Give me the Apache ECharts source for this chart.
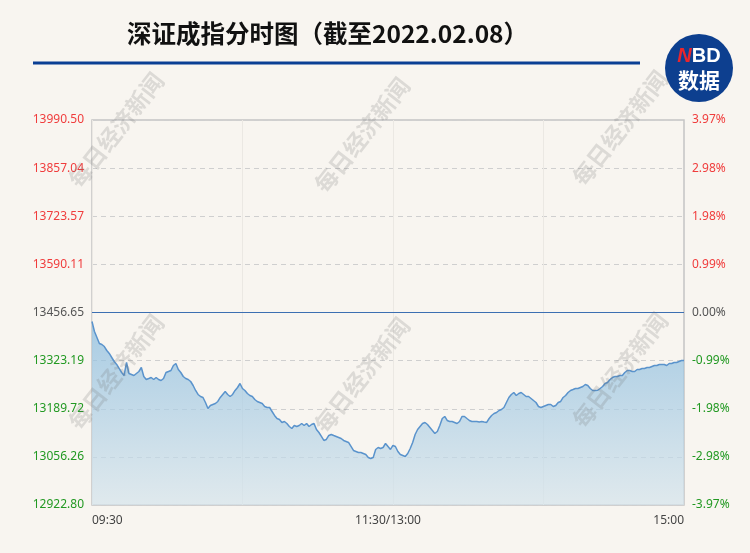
<!DOCTYPE html>
<html><head><meta charset="utf-8">
<script src="https://cdn.jsdelivr.net/npm/echarts@6/dist/echarts.min.js"></script>
<style>html,body{margin:0;padding:0;background:#f8f5f0}#c{width:750px;height:553px}</style>
</head><body><div id="c"></div>
<script>
const titleText = '深证成指分时图（截至2022.02.08）';
const prevClose = 13456.65;
const yMin = 12922.80, yMax = 13990.50;
const priceTicks = [12922.80, 13056.26, 13189.72, 13323.19, 13456.65, 13590.11, 13723.57, 13857.04, 13990.50];
const priceTickLabels = ['12922.80', '13056.26', '13189.72', '13323.19', '13456.65', '13590.11', '13723.57', '13857.04', '13990.50'];
const pctTickLabels = ['-3.97%', '-2.98%', '-1.98%', '-0.99%', '0.00%', '0.99%', '1.98%', '2.98%', '3.97%'];
const xLabelIndex = [0, 120, 240];
const xLabels = ['09:30', '11:30/13:00', '15:00'];

// 09:30 - 11:30 (121 minutes)
const morningPrices = [
13431.7,13404.0,13387.3,13370.7,13367.9,13362.3,13351.3,13343.0,13331.9,13320.8,
13312.5,13301.4,13290.3,13281.9,13318.0,13287.5,13284.7,13281.9,13287.5,13293.0,
13304.1,13279.2,13270.9,13273.6,13276.4,13270.9,13276.4,13270.9,13268.1,13273.6,
13290.3,13293.0,13295.8,13309.7,13315.2,13298.6,13290.3,13279.2,13273.6,13270.9,
13265.3,13254.2,13240.4,13229.3,13223.7,13221.0,13207.1,13190.5,13198.8,13201.6,
13204.3,13209.9,13221.0,13229.3,13237.6,13229.3,13223.7,13229.3,13240.4,13248.7,
13259.8,13245.9,13240.4,13232.0,13226.5,13223.7,13215.4,13209.9,13207.1,13204.3,
13196.0,13193.2,13193.2,13182.1,13171.1,13162.7,13160.0,13151.7,13154.4,13148.9,
13140.6,13135.0,13143.3,13140.6,13143.3,13148.9,13143.3,13148.9,13140.6,13146.1,
13148.9,13132.2,13123.9,13112.9,13101.8,13104.5,13115.6,13118.4,13115.6,13112.9,
13110.1,13107.3,13101.8,13099.0,13096.2,13085.1,13074.0,13071.2,13068.4,13068.4,
13065.7,13062.9,13054.6,13051.8,13054.6,13076.8,13082.3,13079.5,13082.3,13093.4,
13085.1];
// 13:01 - 15:00 (120 minutes)
const afternoonPrices = [
13076.8,13087.9,13085.1,13071.2,13062.9,13060.1,13057.3,13065.7,13079.5,13096.2,
13118.4,13132.2,13140.6,13148.9,13151.7,13146.1,13137.8,13129.5,13121.2,13126.7,
13143.3,13162.7,13168.3,13157.2,13154.4,13154.4,13151.7,13148.9,13154.4,13168.3,
13168.3,13162.7,13157.2,13154.4,13154.4,13154.4,13153.0,13154.4,13153.0,13151.7,
13162.7,13171.1,13176.6,13179.4,13184.9,13187.7,13193.2,13207.1,13221.0,13229.3,
13234.8,13226.5,13232.0,13234.8,13229.3,13223.7,13223.7,13218.2,13212.6,13207.1,
13196.0,13193.2,13196.0,13198.8,13201.6,13201.6,13196.0,13198.8,13207.1,13209.9,
13221.0,13226.5,13234.8,13240.4,13243.1,13245.9,13245.9,13248.7,13251.5,13257.0,
13254.2,13245.9,13240.4,13240.4,13241.0,13245.9,13251.5,13259.8,13262.5,13270.9,
13276.4,13279.2,13279.2,13281.9,13281.9,13290.3,13295.8,13295.8,13293.0,13293.0,
13298.6,13298.6,13301.4,13301.4,13304.1,13304.1,13306.9,13309.7,13309.7,13312.5,
13312.5,13312.5,13309.7,13315.2,13315.2,13318.0,13318.0,13320.8,13323.5,13323.5];

function pad(n){return (n<10?'0':'')+n;}
const times = [];
for (let m = 9*60+30; m <= 11*60+30; m++) times.push(pad(Math.floor(m/60))+':'+pad(m%60));
for (let m = 13*60+1; m <= 15*60; m++) times.push(pad(Math.floor(m/60))+':'+pad(m%60));
const prices = morningPrices.concat(afternoonPrices);

function tickIdx(v){ for (let i=0;i<priceTicks.length;i++) if (Math.abs(priceTicks[i]-v)<0.5) return i; return -1; }
function tickColor(v){ return v > prevClose+0.5 ? '#f03c3c' : (v < prevClose-0.5 ? '#229922' : '#555555'); }

const chart = echarts.init(document.getElementById('c'), null, {renderer:'canvas'});

const watermarks = [];
[[116,130],[362,135],[620,128],[116,372],[362,375],[620,370]].forEach(p=>{
  watermarks.push({type:'text', x:p[0], y:p[1], rotation: 52*Math.PI/180, z:50, silent:true,
    style:{text:'每日经济新闻', fill:'rgba(110,110,110,0.2)', font:'bold 23px "Noto Sans CJK SC"', align:'center', verticalAlign:'middle'}});
});

chart.setOption({
  backgroundColor:'#f8f5f0',
  animation:false,
  textStyle:{fontFamily:'"Noto Sans", "Noto Sans CJK SC", sans-serif'},
  grid:{left:92, right:66, top:120, bottom:48, show:true, borderColor:'#c4c4c4', borderWidth:1.5, backgroundColor:'transparent'},
  graphic: [
    {type:'text', left:127, top:21, z:10, style:{text:titleText, fill:'#111', font:'bold 24.5px "Noto Sans CJK SC"'}},
    {type:'rect', shape:{x:33, y:61.5, width:607, height:3}, style:{fill:'#0a3f94'}, z:10},
    {type:'circle', shape:{cx:699, cy:68, r:34}, style:{fill:'#0d3f8f'}, z:10},
    {type:'text', x:699, y:56, z:11, style:{text:'{n|N}{w|BD}', align:'center', verticalAlign:'middle',
       rich:{n:{fill:'#e8262d', font:'italic bold 20px "Liberation Sans"'}, w:{fill:'#ffffff', font:'bold 20px "Liberation Sans"'}}}},
    {type:'text', x:699, y:80, z:11, style:{text:'数据', fill:'#fff', font:'bold 21px "Noto Sans CJK SC"', align:'center', verticalAlign:'middle'}}
  ].concat(watermarks),
  xAxis:{
    type:'category', data:times, boundaryGap:false,
    axisLine:{show:false}, axisTick:{show:false},
    splitLine:{show:true, interval:60, lineStyle:{color:'#ebe8e3', width:1}},
    axisLabel:{
      interval:function(i){ return xLabelIndex.indexOf(i) >= 0; },
      formatter:function(v,i){ const k = xLabelIndex.indexOf(i); return k>=0 ? xLabels[k] : ''; },
      color:'#444', fontSize:12, margin:10, alignMinLabel:'left', alignMaxLabel:'right'
    }
  },
  yAxis:[
    {type:'value', min:yMin, max:yMax, position:'left',
      axisLine:{show:false}, axisTick:{show:false, customValues:priceTicks},
      splitLine:{show:true, lineStyle:{color:'#cfcfcf', type:[5,4], width:1}},
      axisLabel:{customValues:priceTicks, margin:8, fontSize:12,
        formatter:function(v){ const i=tickIdx(v); return i>=0?priceTickLabels[i]:''; },
        color:function(v){ return tickColor(v); }}
    },
    {type:'value', min:yMin, max:yMax, position:'right',
      axisLine:{show:false}, axisTick:{show:false, customValues:priceTicks},
      splitLine:{show:false},
      axisLabel:{customValues:priceTicks, margin:8, fontSize:12,
        formatter:function(v){ const i=tickIdx(v); return i>=0?pctTickLabels[i]:''; },
        color:function(v){ return tickColor(v); }}
    }
  ],
  series:[{
    type:'line', data:prices, yAxisIndex:0, showSymbol:false, symbol:'none',
    lineStyle:{color:'#5a93cc', width:1.5},
    areaStyle:{color:new echarts.graphic.LinearGradient(0,0,0,1,[{offset:0,color:'#86bade'},{offset:1,color:'#d5e4ec'}])},
    markLine:{silent:true, symbol:'none', label:{show:false},
      lineStyle:{color:'#3c6fb2', width:1, type:'solid'},
      data:[{yAxis:prevClose}]},
    z:3
  }]
});
</script></body></html>
